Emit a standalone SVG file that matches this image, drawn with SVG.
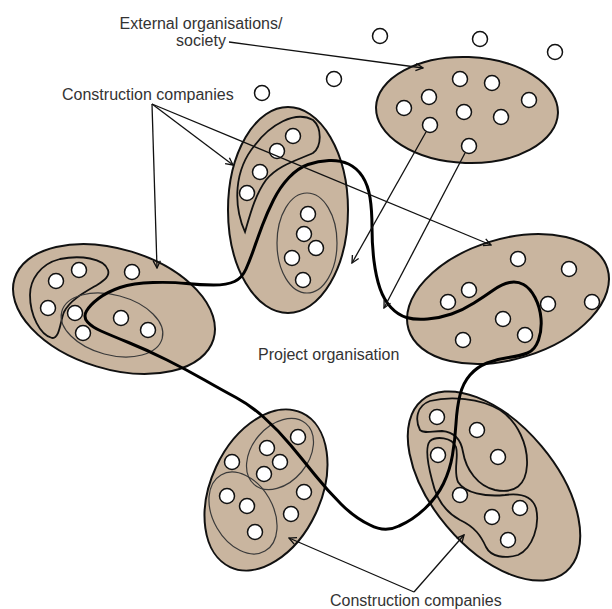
<svg xmlns="http://www.w3.org/2000/svg" width="612" height="609" viewBox="0 0 612 609">
<defs>
<style>
.outer{fill:#c9b59f;stroke:#111;stroke-width:2}
.thin{fill:none;stroke:#3a3a3a;stroke-width:1.2}
.blob{fill:none;stroke:#111;stroke-width:1.8}
.c{fill:#fff;stroke:#111;stroke-width:1.5}
.loop{fill:none;stroke:#000;stroke-width:3;stroke-linejoin:round}
.conn{fill:none;stroke:#111;stroke-width:1.3;marker-end:url(#ah)}
text{font-family:"Liberation Sans",Arial,sans-serif;font-size:16px;fill:#333}
</style>
<marker id="ah" viewBox="0 0 10 10" refX="9" refY="5" markerWidth="9" markerHeight="9" orient="auto" markerUnits="userSpaceOnUse">
<path d="M1,1 L9,5 L1,9" fill="none" stroke="#111" stroke-width="1.5"/>
</marker>
</defs>
<rect width="612" height="609" fill="#fff"/>

<g id="external-organisations">
<ellipse class="outer" cx="467" cy="110" rx="91" ry="53" transform="rotate(2 467 110)"/>
<circle class="c" cx="460" cy="79" r="7.5"/>
<circle class="c" cx="492" cy="83" r="7.5"/>
<circle class="c" cx="429" cy="97" r="7.5"/>
<circle class="c" cx="404" cy="108" r="7.5"/>
<circle class="c" cx="464" cy="112" r="7.5"/>
<circle class="c" cx="529" cy="100" r="7.5"/>
<circle class="c" cx="501" cy="117" r="7.5"/>
<circle class="c" cx="430" cy="125" r="7.5"/>
<circle class="c" cx="469" cy="146" r="7.5"/>
</g>

<g id="society">
<circle class="c" cx="380" cy="36" r="7.5"/>
<circle class="c" cx="480" cy="39" r="7.5"/>
<circle class="c" cx="555" cy="52" r="7.5"/>
<circle class="c" cx="334" cy="79" r="7.5"/>
<circle class="c" cx="262" cy="93" r="7.5"/>
</g>

<g id="company-top">
<ellipse class="outer" cx="288" cy="210" rx="60" ry="103"/>
<path class="blob" d="M245,232 C233,205 234,170 255,145 C270,125 295,110 313,120 C322,128 322,146 313,153 C298,160 278,165 266,180 C255,195 250,215 245,232 Z"/>
<ellipse class="thin" cx="307" cy="243" rx="30" ry="50"/>
<circle class="c" cx="293" cy="136" r="7.5"/>
<circle class="c" cx="277" cy="151" r="7.5"/>
<circle class="c" cx="260" cy="172" r="7.5"/>
<circle class="c" cx="247" cy="193" r="7.5"/>
<circle class="c" cx="308" cy="214" r="7.5"/>
<circle class="c" cx="304" cy="234" r="7.5"/>
<circle class="c" cx="316" cy="248" r="7.5"/>
<circle class="c" cx="292" cy="258" r="7.5"/>
<circle class="c" cx="303" cy="280" r="7.5"/>
</g>

<g id="company-left">
<ellipse class="outer" cx="114" cy="309" rx="104" ry="60" transform="rotate(17 114 309)"/>
<path class="blob" d="M108,270 C104,258 80,255 60,259 C40,264 30,280 30,295 C30,315 40,335 52,338 C60,338 60,322 64,312 C70,300 85,292 97,285 C105,280 110,276 108,270 Z"/>
<ellipse class="thin" cx="112" cy="325" rx="52" ry="30" transform="rotate(15 112 325)"/>
<circle class="c" cx="56" cy="281" r="7.5"/>
<circle class="c" cx="79" cy="270" r="7.5"/>
<circle class="c" cx="48" cy="308" r="7.5"/>
<circle class="c" cx="132" cy="272" r="7.5"/>
<circle class="c" cx="75" cy="313" r="7.5"/>
<circle class="c" cx="83" cy="333" r="7.5"/>
<circle class="c" cx="121" cy="318" r="7.5"/>
<circle class="c" cx="148" cy="330" r="7.5"/>
</g>

<g id="company-right">
<ellipse class="outer" cx="508" cy="299" rx="104" ry="60" transform="rotate(-17 508 299)"/>
<circle class="c" cx="518" cy="259" r="7.5"/>
<circle class="c" cx="569" cy="269" r="7.5"/>
<circle class="c" cx="469" cy="290" r="7.5"/>
<circle class="c" cx="448" cy="302" r="7.5"/>
<circle class="c" cx="548" cy="304" r="7.5"/>
<circle class="c" cx="592" cy="302" r="7.5"/>
<circle class="c" cx="503" cy="319" r="7.5"/>
<circle class="c" cx="463" cy="340" r="7.5"/>
<circle class="c" cx="525" cy="335" r="7.5"/>
</g>

<g id="company-bottom-left">
<ellipse class="outer" cx="266" cy="490" rx="55" ry="85" transform="rotate(25 266 490)"/>
<ellipse class="thin" cx="280" cy="454" rx="28" ry="40" transform="rotate(40 280 454)"/>
<ellipse class="thin" cx="243" cy="513" rx="30" ry="44" transform="rotate(-30 243 513)"/>
<circle class="c" cx="298" cy="437" r="7.5"/>
<circle class="c" cx="267" cy="448" r="7.5"/>
<circle class="c" cx="280" cy="462" r="7.5"/>
<circle class="c" cx="264" cy="474" r="7.5"/>
<circle class="c" cx="232" cy="462" r="7.5"/>
<circle class="c" cx="227" cy="496" r="7.5"/>
<circle class="c" cx="247" cy="506" r="7.5"/>
<circle class="c" cx="255" cy="532" r="7.5"/>
<circle class="c" cx="304" cy="492" r="7.5"/>
<circle class="c" cx="291" cy="514" r="7.5"/>
</g>

<g id="company-bottom-right">
<ellipse class="outer" cx="494" cy="486" rx="62" ry="112" transform="rotate(-40 494 486)"/>
<path class="blob" d="M420,430 C415,420 416,406 430,401 C450,396 480,398 500,410 C518,422 528,445 527,465 C526,485 515,494 495,490 C478,486 466,470 463,452 C461,440 455,432 442,431 C432,431 424,434 420,430 Z"/>
<path class="blob" d="M430,441 C436,436 452,437 456,447 C459,458 453,470 458,482 C465,493 485,497 505,495 C520,493 532,496 536,508 C540,525 533,548 518,555 C505,559 491,557 486,547 C481,536 475,527 460,520 C445,512 436,498 432,480 C428,465 425,447 430,441 Z"/>
<circle class="c" cx="437" cy="417" r="7.5"/>
<circle class="c" cx="477" cy="430" r="7.5"/>
<circle class="c" cx="498" cy="457" r="7.5"/>
<circle class="c" cx="438" cy="455" r="7.5"/>
<circle class="c" cx="460" cy="495" r="7.5"/>
<circle class="c" cx="492" cy="517" r="7.5"/>
<circle class="c" cx="520" cy="508" r="7.5"/>
<circle class="c" cx="508" cy="540" r="7.5"/>
</g>

<g id="project-organisation">
<path class="loop" d="M329,160.5 Q340,160 348.5,164 Q357,168 362.5,176.5 Q368,185 370,197.5 Q372,210 372,227.5 Q372,245 374,261 Q376,277 380,288.5 Q384,300 391,307.5 Q398,315 406.5,317.5 Q415,320 427.5,319 Q440,318 451.5,314 Q463,310 474,303 Q485,296 493.5,290 Q502,284 509.5,282.5 Q517,281 523.5,284.5 Q530,288 535,297.5 Q540,307 541,318.5 Q542,330 538.5,340 Q535,350 527.5,353 Q520,356 508.5,357.5 Q497,359 487,363 Q477,367 470,375 Q463,383 460,395 Q457,407 456,423.5 Q455,440 452.5,455 Q450,470 443.5,483.5 Q437,497 425,508.5 Q413,520 399,526 Q385,533 370,525 Q355,518 341,504 Q327,490 315,475 Q303,460 290.5,445 Q278,430 264,417.5 Q250,405 236,397.5 Q222,390 204.5,380 Q187,370 167,360 Q147,350 128.5,342.5 Q110,335 101,331 Q92,327 87.5,322 Q83,317 86.5,311 Q90,305 98.5,298.5 Q107,292 120,287.5 Q133,283 153,282.5 Q173,282 186.5,283.5 Q200,285 213.5,285 Q227,285 234.5,281.5 Q242,278 246,269 Q250,260 254,248.5 Q258,237 262.5,225 Q267,213 273.5,200 Q280,187 289,177.5 Q298,168 308,164.5 Q318,161 329,160.5 Z"/>
</g>

<g id="connectors">
<path class="conn" d="M229,42 L423,68"/>
<path class="conn" d="M152,104 L157,268"/>
<path class="conn" d="M152,104 L233,165"/>
<path class="conn" d="M152,104 L491,245"/>
<path class="conn" d="M426,132 L352,263"/>
<path class="conn" d="M465,153 L384,308"/>
<path class="conn" d="M414,592 L289,538"/>
<path class="conn" d="M414,592 L464,535"/>
</g>

<g id="labels">
<text x="201" y="29" text-anchor="middle">External organisations/</text>
<text x="201" y="46" text-anchor="middle">society</text>
<text x="62" y="100">Construction companies</text>
<text x="258" y="360">Project organisation</text>
<text x="330" y="606">Construction companies</text>
</g>
</svg>
